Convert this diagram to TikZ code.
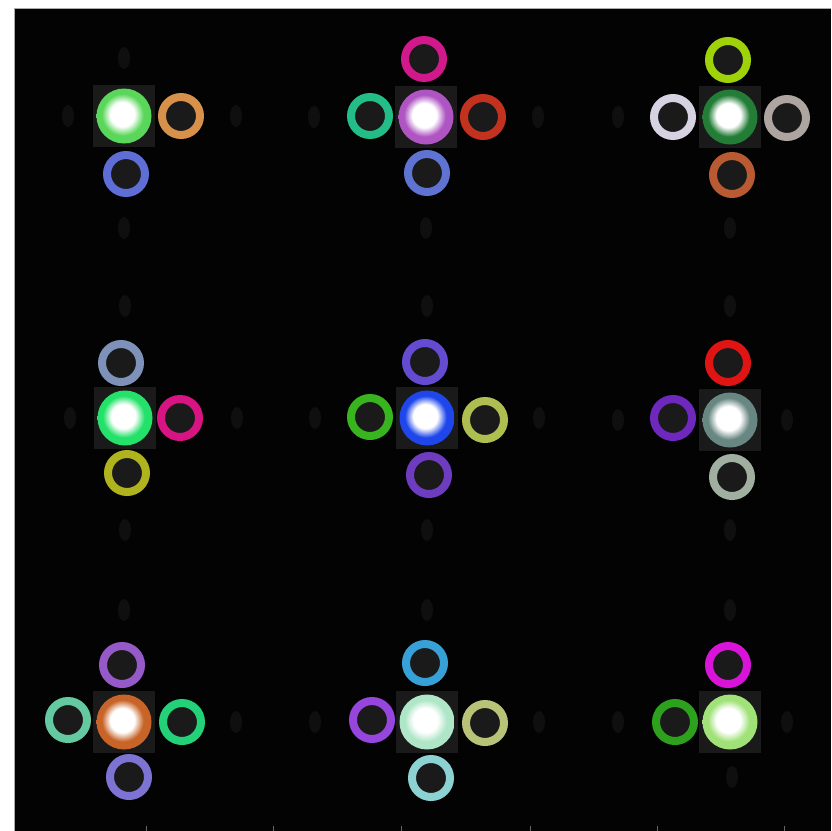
\documentclass[tikz,border=0pt]{standalone}
\usepackage{tikz}
\usetikzlibrary{positioning, calc, shapes.geometric}
\definecolor{panelbg}{RGB}{3,3,3}
\definecolor{panelline}{RGB}{170,170,170}
\definecolor{halo}{RGB}{26,26,26}
\definecolor{holefill}{RGB}{26,26,26}
\definecolor{ghostgray}{RGB}{15,15,15}
\definecolor{spotcol}{RGB}{255,255,255}
% centre spots
\definecolor{s11col}{RGB}{90,215,90}
\definecolor{s12col}{RGB}{175,85,195}
\definecolor{s13col}{RGB}{35,125,55}
\definecolor{s21col}{RGB}{35,225,105}
\definecolor{s22col}{RGB}{30,70,235}
\definecolor{s23col}{RGB}{105,135,130}
\definecolor{s31col}{RGB}{200,100,40}
\definecolor{s32col}{RGB}{175,230,200}
\definecolor{s33col}{RGB}{160,225,120}
% neighbour rings
\definecolor{r11e}{RGB}{215,145,75}
\definecolor{r11s}{RGB}{95,110,215}
\definecolor{r12n}{RGB}{210,25,140}
\definecolor{r12w}{RGB}{35,190,135}
\definecolor{r12e}{RGB}{195,50,30}
\definecolor{r12s}{RGB}{95,115,210}
\definecolor{r13n}{RGB}{160,210,10}
\definecolor{r13w}{RGB}{215,210,225}
\definecolor{r13e}{RGB}{175,165,160}
\definecolor{r13s}{RGB}{185,90,50}
\definecolor{r21n}{RGB}{125,145,185}
\definecolor{r21e}{RGB}{215,20,130}
\definecolor{r21s}{RGB}{175,180,30}
\definecolor{r22n}{RGB}{100,75,210}
\definecolor{r22w}{RGB}{55,180,30}
\definecolor{r22e}{RGB}{175,190,80}
\definecolor{r22s}{RGB}{110,60,190}
\definecolor{r23n}{RGB}{225,20,20}
\definecolor{r23w}{RGB}{110,40,190}
\definecolor{r23s}{RGB}{160,175,160}
\definecolor{r31n}{RGB}{150,90,200}
\definecolor{r31w}{RGB}{100,200,160}
\definecolor{r31e}{RGB}{35,210,120}
\definecolor{r31s}{RGB}{125,115,210}
\definecolor{r32n}{RGB}{55,160,215}
\definecolor{r32w}{RGB}{150,70,220}
\definecolor{r32e}{RGB}{185,195,120}
\definecolor{r32s}{RGB}{140,210,210}
\definecolor{r33n}{RGB}{215,20,215}
\definecolor{r33w}{RGB}{45,160,30}

% white core, coloured rim
\pgfdeclareradialshading[spotcol]{spotshade}{\pgfpoint{-2bp}{2bp}}{%
  color(0bp)=(white); color(11bp)=(white); color(19bp)=(spotcol);
  color(25bp)=(spotcol); color(50bp)=(spotcol)}

\tikzset{
  halobox/.style={fill=halo, minimum size=62pt, inner sep=0pt},
  spot/.style={circle, minimum size=55pt, inner sep=0pt,
    /utils/exec={\colorlet{spotcol}{#1}}, shading=spotshade},
  ring/.style={circle, draw=#1, line width=8pt, minimum size=38pt,
    inner sep=0pt, fill=holefill},
  ghost/.style={ellipse, fill=ghostgray, minimum width=12pt,
    minimum height=22pt, inner sep=0pt}
}

\begin{document}
\begin{tikzpicture}[x=1pt, y=-1pt]
  \useasboundingbox (0,0) rectangle (831,831);
  \fill[white] (0,0) rectangle (831,831);
  \fill[panelbg] (14,8) rectangle (831,831);
  \draw[panelline, line width=1pt] (14,831) -- (14,8) -- (831,8);
  \foreach \tx in {146,273,401,530,657,784}
    \draw[panelline!60!black, line width=0.8pt] (\tx,831) -- (\tx,826);

  % faint background spots
  \begin{scope}
    \clip (14,8) rectangle (831,831);
    \foreach \gx/\gy in {68/116, 124/58, 236/116, 124/228, 314/117, 538/117,
        426/228, 618/117, 730/228, 70/418, 237/418, 125/306, 125/530,
        315/418, 539/418, 427/306, 427/530, 787/420, 618/420, 730/306,
        730/530, 236/722, 124/610, 315/722, 539/722, 427/610, 787/722,
        732/777, 618/722, 730/610}
      \node[ghost] at (\gx,\gy) {};
  \end{scope}

  % row 1
  \node[halobox] (h11) at (124,116) {};
  \node[spot=s11col] (s11) at (h11) {};
  \node[ring=r11e] (n11e) at ($(s11)+(57,0)$) {};
  \node[ring=r11s] (n11s) at ($(s11)+(2,58)$) {};

  \node[halobox] (h12) at (426,117) {};
  \node[spot=s12col] (s12) at (h12) {};
  \node[ring=r12n] (n12n) at ($(s12)+(-2,-58)$) {};
  \node[ring=r12w] (n12w) at ($(s12)+(-56,-1)$) {};
  \node[ring=r12e] (n12e) at ($(s12)+(57,0)$) {};
  \node[ring=r12s] (n12s) at ($(s12)+(1,56)$) {};

  \node[halobox] (h13) at (730,117) {};
  \node[spot=s13col] (s13) at (h13) {};
  \node[ring=r13n] (n13n) at ($(s13)+(-2,-57)$) {};
  \node[ring=r13w] (n13w) at ($(s13)+(-57,0)$) {};
  \node[ring=r13e] (n13e) at ($(s13)+(57,1)$) {};
  \node[ring=r13s] (n13s) at ($(s13)+(2,58)$) {};

  % row 2
  \node[halobox] (h21) at (125,418) {};
  \node[spot=s21col] (s21) at (h21) {};
  \node[ring=r21n] (n21n) at ($(s21)+(-4,-55)$) {};
  \node[ring=r21e] (n21e) at ($(s21)+(55,0)$) {};
  \node[ring=r21s] (n21s) at ($(s21)+(2,55)$) {};

  \node[halobox] (h22) at (427,418) {};
  \node[spot=s22col] (s22) at (h22) {};
  \node[ring=r22n] (n22n) at ($(s22)+(-2,-56)$) {};
  \node[ring=r22w] (n22w) at ($(s22)+(-57,-1)$) {};
  \node[ring=r22e] (n22e) at ($(s22)+(58,2)$) {};
  \node[ring=r22s] (n22s) at ($(s22)+(2,57)$) {};

  \node[halobox] (h23) at (730,420) {};
  \node[spot=s23col] (s23) at (h23) {};
  \node[ring=r23n] (n23n) at ($(s23)+(-2,-57)$) {};
  \node[ring=r23w] (n23w) at ($(s23)+(-57,-2)$) {};
  \node[ring=r23s] (n23s) at ($(s23)+(2,57)$) {};

  % row 3
  \node[halobox] (h31) at (124,722) {};
  \node[spot=s31col] (s31) at (h31) {};
  \node[ring=r31n] (n31n) at ($(s31)+(-2,-57)$) {};
  \node[ring=r31w] (n31w) at ($(s31)+(-56,-2)$) {};
  \node[ring=r31e] (n31e) at ($(s31)+(58,0)$) {};
  \node[ring=r31s] (n31s) at ($(s31)+(5,55)$) {};

  \node[halobox] (h32) at (427,722) {};
  \node[spot=s32col] (s32) at (h32) {};
  \node[ring=r32n] (n32n) at ($(s32)+(-2,-59)$) {};
  \node[ring=r32w] (n32w) at ($(s32)+(-55,-2)$) {};
  \node[ring=r32e] (n32e) at ($(s32)+(58,1)$) {};
  \node[ring=r32s] (n32s) at ($(s32)+(4,56)$) {};

  \node[halobox] (h33) at (730,722) {};
  \node[spot=s33col] (s33) at (h33) {};
  \node[ring=r33n] (n33n) at ($(s33)+(-2,-57)$) {};
  \node[ring=r33w] (n33w) at ($(s33)+(-55,0)$) {};
\end{tikzpicture}
\end{document}
